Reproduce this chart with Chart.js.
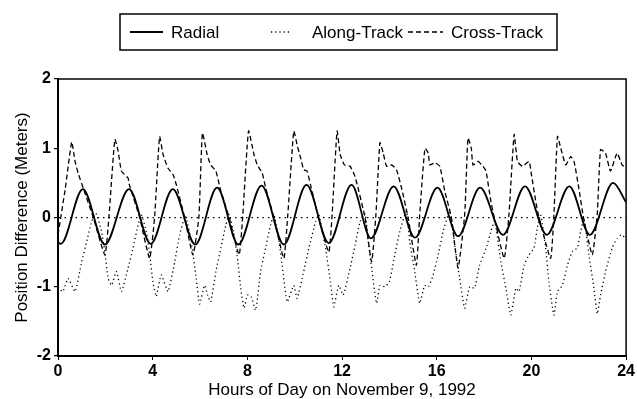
<!DOCTYPE html>
<html>
<head>
<meta charset="utf-8">
<script src="https://cdn.jsdelivr.net/npm/chart.js@4.4.0/dist/chart.umd.min.js"></script>
<style>
  html, body { margin: 0; padding: 0; background: #fff; }
  canvas { display: block; }
</style>
</head>
<body>
<canvas id="myChart" width="637" height="399"></canvas>
<script>
// values (hours, meters)
const radialHours = [0, 0.12, 1.05, 1.98, 3.0, 3.92, 4.85, 5.8, 6.72, 7.62, 8.6, 9.54, 10.5, 11.44, 12.4, 13.22,
  14.18, 15.08, 16.03, 16.9, 17.83, 18.8, 19.73, 20.65, 21.6, 22.47, 23.45, 24]
const radialValues = [-0.36, -0.38, 0.41, -0.39, 0.41, -0.38, 0.41, -0.39, 0.43, -0.39, 0.46, -0.39, 0.47, -0.37, 0.47, -0.30,
  0.45, -0.29, 0.43, -0.27, 0.43, -0.25, 0.45, -0.25, 0.45, -0.25, 0.5, 0.22]

const alongHours = [0, 0.2, 0.43, 0.72, 1.0, 1.21, 1.42, 1.6, 1.84, 1.98, 2.12, 2.26, 2.47, 2.68, 2.96, 3.17, 3.38, 3.52,
  3.73, 3.88, 4.01, 4.15, 4.36, 4.65, 4.93, 5.14, 5.38, 5.63, 5.84, 5.98, 6.19, 6.32, 6.45, 6.67, 6.88, 7.09, 7.23,
  7.44, 7.6, 7.72, 7.86, 8.0, 8.17, 8.35, 8.56, 8.77, 8.98, 9.12, 9.3, 9.47, 9.68, 9.96, 10.1, 10.38, 10.6, 10.88,
  11.02, 11.3, 11.51, 11.65, 11.86, 12.05, 12.34, 12.55, 12.76, 12.97, 13.1, 13.25, 13.46, 13.6, 13.81, 14.0, 14.23,
  14.44, 14.72, 14.86, 15.07, 15.28, 15.49, 15.65, 15.85, 16.06, 16.27, 16.55, 16.76, 16.97, 17.18, 17.39, 17.6,
  17.81, 18.08, 18.29, 18.45, 18.71, 18.92, 19.13, 19.34, 19.48, 19.69, 19.9, 20.11, 20.25, 20.39, 20.6, 20.74,
  20.95, 21.1, 21.31, 21.52, 21.73, 21.94, 22.08, 22.22, 22.43, 22.64, 22.78, 22.92, 23.13, 23.41, 23.62, 23.8, 24]
const alongValues = [-1.0, -1.07, -0.88, -1.07, -0.64, -0.35, -0.06, 0.06, -0.2, -0.5, -0.88, -0.98, -0.78, -1.07, -0.73, -0.44, -0.11, 0.04,
  -0.2, -0.55, -0.93, -1.14, -0.83, -1.07, -0.64, -0.25, 0.02, -0.35, -0.88, -1.25, -0.98, -1.12, -1.22, -0.78, -0.44, -0.11, 0.04,
  -0.25, -0.64, -1.02, -1.31, -1.12, -1.15, -1.34, -0.78, -0.44, -0.11, 0.04, -0.25, -0.69, -1.22, -0.98, -1.17, -0.78, -0.44, -0.06,
  0.04, -0.44, -0.93, -1.29, -0.98, -1.12, -0.73, -0.4, -0.06, 0.06, -0.33, -0.73, -1.24, -0.98, -1.0, -0.93, -0.54,
  -0.2, 0.09, -0.35, -0.78, -1.24, -0.98, -1.0, -0.83, -0.54, -0.2, 0.09, -0.4, -0.88, -1.31, -1.0, -1.02,
  -0.69, -0.45, -0.2, -0.05, -0.64, -1.02, -1.41, -1.02, -1.07, -0.69, -0.54, -0.44, -0.15, 0.04, -0.44, -0.93,
  -1.41, -1.07, -0.98, -0.69, -0.49, -0.44, -0.2, -0.02, -0.54, -1.02, -1.39, -1.12, -0.78, -0.44, -0.3, -0.25, -0.3]

const crossHours = [0, 0.3, 0.58, 0.72, 0.85, 1.07, 1.49, 1.98, 2.15, 2.4, 2.54, 2.68, 2.96, 3.0, 3.45, 3.87, 4.08, 4.29,
  4.44, 4.65, 4.86, 5.0, 5.35, 5.7, 5.95, 6.1, 6.3, 6.45, 6.67, 6.88, 7.23, 7.65, 7.8, 8.05, 8.28, 8.42, 8.63, 8.77,
  9.12, 9.54, 9.7, 9.96, 10.1, 10.25, 10.38, 10.52, 10.67, 11.0, 11.44, 11.58, 11.79, 11.92, 12.1, 12.34, 12.55,
  12.97, 13.25, 13.43, 13.6, 13.74, 13.88, 14.09, 14.3, 14.51, 14.79, 15.14, 15.28, 15.5, 15.64, 15.71, 15.92,
  16.13, 16.34, 16.62, 16.9, 17.18, 17.32, 17.46, 17.53, 17.74, 17.95, 18.08, 18.29, 18.43, 18.85, 19.05, 19.27,
  19.41, 19.62, 19.9, 20.0, 20.2, 20.32, 20.81, 20.95, 21.1, 21.24, 21.45, 21.66, 21.8, 22.0, 22.2, 22.57, 22.78,
  22.92, 23.13, 23.34, 23.62, 23.83, 24]
const crossValues = [-0.25, 0.4, 1.09, 0.81, 0.64, 0.42, 0.0, -0.54, 0.0, 1.13, 0.96, 0.67, 0.57, 0.49, 0.0, -0.59, 0.0, 1.17,
  0.91, 0.71, 0.62, 0.47, 0.0, -0.54, 0.0, 1.22, 0.91, 0.76, 0.67, 0.38, 0.0, -0.54, 0.0, 1.25, 0.91, 0.76, 0.64, 0.43,
  0.0, -0.59, 0.0, 1.25, 1.05, 0.86, 0.69, 0.67, 0.47, 0.0, -0.5, 0.04, 1.25, 0.91, 0.76, 0.74, 0.59,
  0.0, -0.64, 0.04, 1.08, 0.93, 0.74, 0.76, 0.69, 0.43, 0.0, -0.69, 0.04, 1.0, 0.93, 0.76, 0.79,
  0.74, 0.38, 0.0, -0.73, 0.04, 1.15, 1.0, 0.76, 0.81, 0.74, 0.67, 0.23, 0.0, -0.59, 0.04, 1.2,
  0.81, 0.74, 0.81, 0.62, 0.2, 0.0, -0.59, 0.04, 1.17, 1.0, 0.76, 0.88, 0.81, 0.43, 0.0, -0.54, 0.04,
  0.98, 0.93, 0.67, 0.93, 0.76, 0.72]

const xTicks = [0, 4, 8, 12, 16, 20, 24]
const yTicks = [-2, -1, 0, 1, 2]

const toPoints = (xs, ys) => xs.map((x, i) => ({x: x, y: ys[i]}))

const FONT = "'Liberation Sans', Arial, Helvetica, sans-serif"

// boxed legend with line samples, and the closed frame round the plot
const boxLegend = {
  id: 'boxLegend',
  afterDraw(chart) {
    const ctx = chart.ctx
    const a = chart.chartArea
    ctx.save()
    ctx.strokeStyle = '#000'
    ctx.lineWidth = 1.5
    ctx.strokeRect(a.left, a.top, a.right - a.left, a.bottom - a.top)

    ctx.lineWidth = 1.5
    ctx.strokeRect(120, 14, 437, 36)
    const items = [
      {ds: chart.data.datasets[0], x0: 130, x1: 163, tx: 171},
      {ds: chart.data.datasets[1], x0: 271, x1: 292, tx: 312},
      {ds: chart.data.datasets[2], x0: 408, x1: 443, tx: 451}
    ]
    const cy = 32
    items.forEach(it => {
      ctx.beginPath()
      ctx.setLineDash(it.ds.borderDash || [])
      ctx.lineWidth = it.ds.borderWidth
      ctx.moveTo(it.x0, cy)
      ctx.lineTo(it.x1, cy)
      ctx.stroke()
      ctx.setLineDash([])
      ctx.fillStyle = '#000'
      ctx.font = '17px ' + FONT
      ctx.textBaseline = 'middle'
      ctx.fillText(it.ds.label, it.tx, cy + 1)
    })
    ctx.restore()
  }
}

const data = {
  datasets: [
    {
      label: 'Radial',
      data: toPoints(radialHours, radialValues),
      borderColor: '#000',
      borderWidth: 1.8,
      cubicInterpolationMode: 'monotone',
      pointRadius: 0
    },
    {
      label: 'Along-Track',
      data: toPoints(alongHours, alongValues),
      borderColor: '#000',
      borderWidth: 1.3,
      borderDash: [1.2, 3],
      tension: 0.15,
      pointRadius: 0
    },
    {
      label: 'Cross-Track',
      data: toPoints(crossHours, crossValues),
      borderColor: '#000',
      borderWidth: 1.3,
      borderDash: [5, 3],
      tension: 0.15,
      pointRadius: 0
    }
  ]
}

const config = {
  type: 'line',
  data: data,
  plugins: [boxLegend],
  options: {
    responsive: false,
    animation: false,
    layout: {
      padding: {top: 79, right: 9, left: 0, bottom: 0}
    },
    plugins: {
      legend: {display: false},
      tooltip: {enabled: false}
    },
    scales: {
      x: {
        type: 'linear',
        min: 0,
        max: 24,
        afterFit: (scale) => { scale.height = 43 },
        afterBuildTicks: (scale) => { scale.ticks = xTicks.map(v => ({value: v})) },
        ticks: {
          color: '#000',
          padding: 2,
          font: {family: FONT, size: 16, weight: 'bold'}
        },
        grid: {
          drawOnChartArea: false,
          tickLength: 4,
          tickColor: '#000'
        },
        border: {color: '#000', width: 2},
        title: {
          display: true,
          text: 'Hours of Day on November 9, 1992',
          color: '#000',
          font: {family: FONT, size: 17, lineHeight: 1},
          padding: {top: 0, bottom: 0}
        }
      },
      y: {
        type: 'linear',
        min: -2,
        max: 2,
        afterFit: (scale) => { scale.width = 58 },
        afterBuildTicks: (scale) => { scale.ticks = yTicks.map(v => ({value: v})) },
        ticks: {
          color: '#000',
          padding: 3,
          font: {family: FONT, size: 16, weight: 'bold'}
        },
        grid: {
          color: (c) => (c.tick && c.tick.value === 0) ? '#000' : 'rgba(0,0,0,0)',
          lineWidth: 1.2,
          tickLength: 4,
          tickColor: '#000'
        },
        border: {color: '#000', width: 2, dash: [1.5, 4]},
        title: {
          display: true,
          text: 'Position Difference (Meters)',
          color: '#000',
          font: {family: FONT, size: 17, lineHeight: 1.2},
          padding: {top: 12, bottom: 0}
        }
      }
    }
  }
}

const ctx = document.getElementById('myChart').getContext('2d')
const chart = new Chart(ctx, config)
</script>
</body>
</html>
